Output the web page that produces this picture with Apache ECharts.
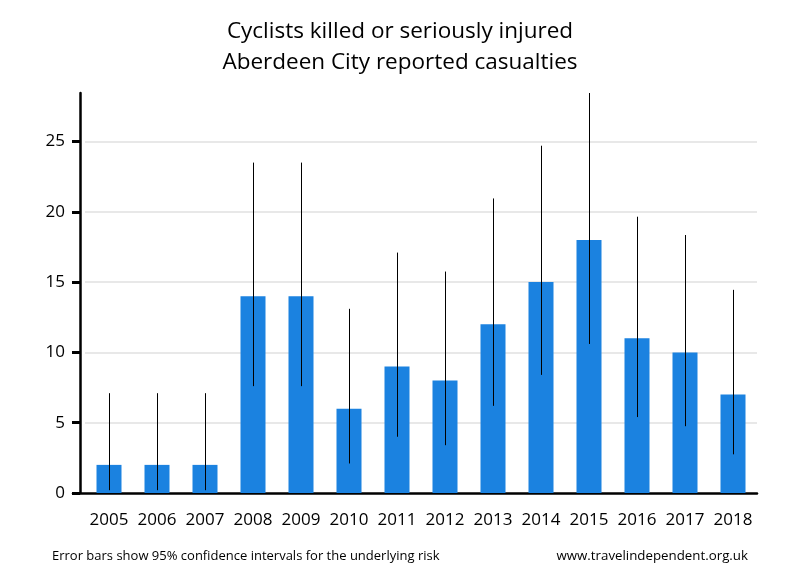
<!DOCTYPE html>
<html>
<head>
<meta charset="utf-8">
<script src="https://cdn.jsdelivr.net/npm/echarts@6/dist/echarts.min.js"></script>
<style>html,body{margin:0;padding:0;background:#fff}#c{width:800px;height:580px}</style>
</head>
<body>
<div id="c"></div>
<script>
var years = ['2005','2006','2007','2008','2009','2010','2011','2012','2013','2014','2015','2016','2017','2018'];
var casualties = [2,2,2,14,14,6,9,8,12,15,18,11,10,7];
var ciLow = [0.2,0.2,0.2,7.6,7.6,2.1,4.0,3.4,6.2,8.4,10.6,5.4,4.75,2.75];
var ciHigh = [7.1,7.1,7.1,23.5,23.5,13.1,17.1,15.75,20.95,24.7,28.45,19.65,18.35,14.45];
var yTicks = [0,5,10,15,20,25];
var yMax = 28.45;

var FONT = '"Open Sans", "Noto Sans", sans-serif';
var chart = echarts.init(document.getElementById('c'), null, {renderer:'canvas'});
var errData = years.map(function(y,i){ return [i, ciLow[i], ciHigh[i]]; });
chart.setOption({
  animation:false,
  backgroundColor:'#fff',
  title:[
    {text:'Cyclists killed or seriously injured\nAberdeen City reported casualties', left:'center', top:11,
     textStyle:{fontFamily:FONT, fontSize:22.5, fontWeight:'normal', color:'#000', lineHeight:31}},
    {text:'Error bars show 95% confidence intervals for the underlying risk', left:47, top:545,
     textStyle:{fontFamily:FONT, fontSize:13, fontWeight:'normal', color:'#000'}},
    {text:'www.travelindependent.org.uk', right:47, top:545,
     textStyle:{fontFamily:FONT, fontSize:13.3, fontWeight:'normal', color:'#000'}}
  ],
  grid:[
    {left:85, right:43, top:93, bottom:87, containLabel:false},
    {left:73, right:43, top:93, bottom:87, containLabel:false}
  ],
  xAxis:[
    {type:'category', data:years, gridIndex:0, boundaryGap:true,
     axisLine:{show:false}, axisTick:{show:false},
     axisLabel:{fontFamily:FONT, fontSize:17, color:'#000', margin:19, interval:0}},
    {type:'category', data:years, gridIndex:1, position:'bottom',
     axisLine:{show:true, onZero:false, lineStyle:{color:'#000', width:2.5}}, axisTick:{show:false}, axisLabel:{show:false}}
  ],
  yAxis:[
    {type:'value', min:0, max:yMax, interval:5, gridIndex:0, offset:5,
     axisLine:{show:true, onZero:false, lineStyle:{color:'#000', width:2.5}},
     axisTick:{show:true, inside:false, length:8, lineStyle:{color:'#000', width:3}},
     axisLabel:{fontFamily:FONT, fontSize:17, color:'#000', margin:15, showMaxLabel:false,
       formatter:function(v){ return yTicks.indexOf(v) >= 0 ? String(v) : ''; }},
     splitLine:{show:false}},
    {type:'value', min:0, max:yMax, gridIndex:1, show:false}
  ],
  series:[
    {type:'bar', data:casualties, barWidth:25, itemStyle:{color:'#1b82e0'}, xAxisIndex:0, yAxisIndex:0, z:2,
     markLine:{silent:true, symbol:'none', label:{show:false},
       lineStyle:{color:'#e8e8e8', width:2, type:'solid'},
       data:yTicks.slice(1).map(function(v){return {yAxis:v};}), z:1}},
    {type:'custom', xAxisIndex:0, yAxisIndex:0, data:errData, z:5,
     renderItem:function(params, api){
       var x = api.value(0);
       var p1 = api.coord([x, api.value(1)]);
       var p2 = api.coord([x, api.value(2)]);
       return {type:'line', shape:{x1:Math.round(p1[0])+0.5, y1:p1[1], x2:Math.round(p2[0])+0.5, y2:p2[1]},
               style:{stroke:'#000', lineWidth:1}};
     }}
  ]
});
</script>
</body>
</html>
